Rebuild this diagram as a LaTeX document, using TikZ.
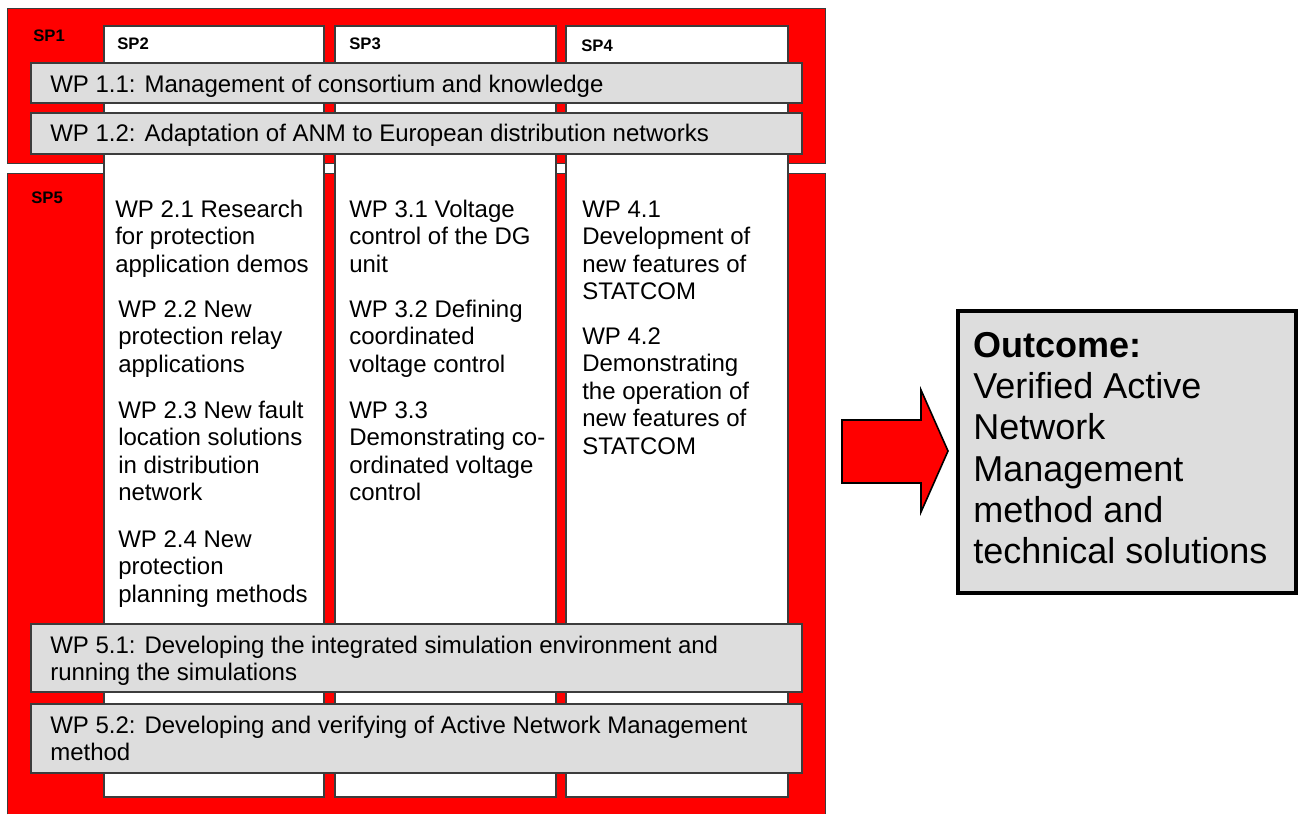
\documentclass[tikz,border=0pt]{standalone}
\usepackage{fontspec}
\setmainfont{Liberation Sans}
\usetikzlibrary{fit}
\definecolor{spred}{RGB}{255,0,0}
\definecolor{wpgray}{RGB}{221,221,221}
\definecolor{edge}{RGB}{60,60,60}
\begin{document}
\begin{tikzpicture}[x=0.75pt,y=-0.75pt,
  redfill/.style={fill=spred,draw=none},
  redline/.style={draw=edge,line width=0.8pt},
  column/.style={fill=white,draw=edge,line width=0.8pt,inner sep=0pt},
  wpbox/.style={fill=wpgray,draw=edge,line width=0.8pt,inner sep=0pt},
  outbox/.style={fill=wpgray,draw=black,line width=2.3pt,inner sep=0pt},
  splabel/.style={font=\fontsize{12.5}{15}\selectfont\bfseries,anchor=base west,inner sep=0pt},
  wptext/.style={font=\fontsize{18}{20.7}\selectfont,anchor=base west,inner sep=0pt,align=left},
  outtext/.style={font=\fontsize{27}{31}\selectfont,anchor=base west,inner sep=0pt,align=left},
  blockarrow/.style={fill=spred,draw=black,line width=1.2pt,line join=miter}
]
\useasboundingbox (0,0) rectangle (1299,814);
% SP1 red area
\node[redfill,fit={(8,9) (825,163)},inner sep=0pt] (sp1) {};
\draw[redline] (sp1.north west) rectangle (sp1.south east);
% SP5 red area (runs off bottom)
\node[redfill,fit={(8,174) (825,814)},inner sep=0pt] (sp5) {};
\draw[redline] (sp5.south west) -- (sp5.north west) -- (sp5.north east) -- (sp5.south east);
% columns
\node[column,fit={(104,26) (324,797)}] (sp2) {};
\node[column,fit={(335,26) (556,797)}] (sp3) {};
\node[column,fit={(566,26) (788,797)}] (sp4) {};
% SP labels
\node[splabel] (l1) at (33,41) {SP1};
\node[splabel] (l2) at (117,49) {SP2};
\node[splabel] (l3) at (349,49) {SP3};
\node[splabel] (l4) at (581,51) {SP4};
\node[splabel] (l5) at (31,203) {SP5};
% horizontal WP boxes (text anchors: baseline of the last line)
\node[wpbox,fit={(31,63) (802,103)}] (wp11) {};
\node[wpbox,fit={(31,113) (802,154)}] (wp12) {};
\node[wpbox,fit={(31,624) (802,692)}] (wp51) {};
\node[wpbox,fit={(31,704) (802,773)}] (wp52) {};
\node[wptext] (t11) at (50,92) {WP 1.1: Management of consortium and knowledge};
\node[wptext] (t12) at (50,141) {WP 1.2: Adaptation of ANM to European distribution networks};
\node[wptext] (t51) at (50,680.6) {WP 5.1: Developing the integrated simulation environment and\\running the simulations};
\node[wptext] (t52) at (50,760.6) {WP 5.2: Developing and verifying of Active Network Management\\method};
% SP2 column texts
\node[wptext] (t21) at (115,272.2) {WP 2.1 Research\\for protection\\application demos};
\node[wptext] (t22) at (118,372.2) {WP 2.2 New\\protection relay\\applications};
\node[wptext] (t23) at (118,500.8) {WP 2.3 New fault\\location solutions\\in distribution\\network};
\node[wptext] (t24) at (118,602.2) {WP 2.4 New\\protection\\planning methods};
% SP3 column texts
\node[wptext] (t31) at (349,272.2) {WP 3.1 Voltage\\control of the DG\\unit};
\node[wptext] (t32) at (349,372.2) {WP 3.2 Defining\\coordinated\\voltage control};
\node[wptext] (t33) at (349,500.8) {WP 3.3\\Demonstrating co-\\ordinated voltage\\control};
% SP4 column texts
\node[wptext] (t41) at (582,299.8) {WP 4.1\\Development of\\new features of\\STATCOM};
\node[wptext] (t42) at (582,454.4) {WP 4.2\\Demonstrating\\the operation of\\new features of\\STATCOM};
% block arrow
\draw[blockarrow] (842,420) -- (921,420) -- (921,390) -- (948,451) -- (921,512) -- (921,483) -- (842,483) -- cycle;
% outcome
\node[outbox,fit={(958,311) (1296,593)}] (out) {};
\node[outtext] (outt) at (973,563.7) {\textbf{Outcome:}\\Verified Active\\Network\\Management\\method and\\technical solutions};
\end{tikzpicture}
\end{document}
